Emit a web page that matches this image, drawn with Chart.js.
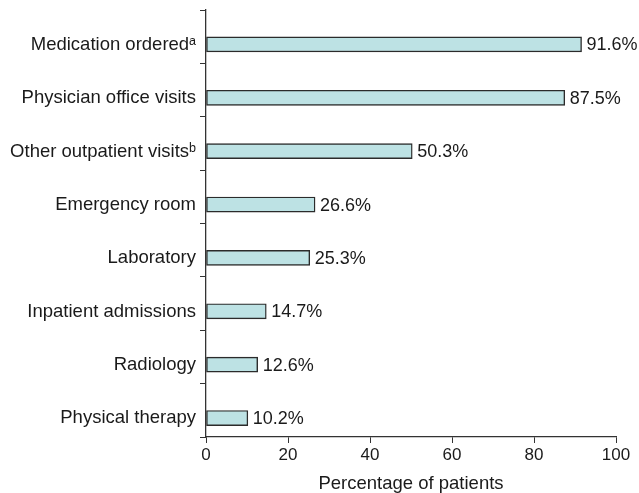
<!DOCTYPE html>
<html>
<head>
<meta charset="utf-8">
<script src="https://cdn.jsdelivr.net/npm/chart.js@4/dist/chart.umd.min.js"></script>
<style>
  html, body { margin: 0; padding: 0; background: #fff; }
  #wrap { width: 639px; height: 493px; }
</style>
</head>
<body>
<div id="wrap"><canvas id="chart" width="639" height="493"></canvas></div>
<script>
// Data
const categories = [
    'Medication ordered\u1D43',
    'Physician office visits',
    'Other outpatient visits\u1D47',
    'Emergency room',
    'Laboratory',
    'Inpatient admissions',
    'Radiology',
    'Physical therapy'
];
const percentages = [91.6, 87.5, 50.3, 26.6, 25.3, 14.7, 12.6, 10.2];
const xTicks = [0, 20, 40, 60, 80, 100];

const FONT = '"Liberation Sans", Arial, "DejaVu Sans", sans-serif';

// In the original the bars sit a little below the middle of each band
const BAND_POS = 0.645;

// Draw the percentage after each bar
const valueLabels = {
    id: 'valueLabels',
    afterDatasetsDraw(chart) {
        const ctx = chart.ctx;
        const meta = chart.getDatasetMeta(0);
        ctx.save();
        ctx.font = '18px ' + FONT;
        ctx.fillStyle = '#1a1a1a';
        ctx.textAlign = 'left';
        ctx.textBaseline = 'middle';
        meta.data.forEach(function(bar, i) {
            ctx.fillText(percentages[i].toFixed(1) + '%', bar.x + 5, bar.y + 1);
        });
        ctx.restore();
    }
};

new Chart(document.getElementById('chart').getContext('2d'), {
    type: 'bar',
    data: {
        labels: categories,
        datasets: [{
            data: percentages.map(function(v, i) { return { x: v, y: i }; }),
            yAxisID: 'yb',
            backgroundColor: '#bde2e4',
            borderColor: '#2b2b2b',
            borderWidth: 1.4,
            borderSkipped: false,
            barThickness: 15
        }]
    },
    options: {
        indexAxis: 'y',
        responsive: false,
        animation: false,
        layout: { padding: { top: 10, right: 23, left: 0, bottom: 0 } },
        plugins: {
            legend: { display: false },
            tooltip: { enabled: false }
        },
        scales: {
            x: {
                min: 0,
                max: 100,
                afterBuildTicks: function(scale) {
                    scale.ticks = xTicks.map(function(v) { return { value: v }; });
                },
                afterFit: function(scale) { scale.height = 56; },
                grid: {
                    drawOnChartArea: false,
                    drawTicks: true,
                    tickLength: 6,
                    color: '#333'
                },
                border: { display: true, color: '#333', width: 1.3 },
                ticks: {
                    color: '#1a1a1a',
                    font: { family: FONT, size: 17 },
                    padding: 2,
                    maxRotation: 0
                },
                title: {
                    display: true,
                    text: 'Percentage of patients',
                    color: '#1a1a1a',
                    font: { family: FONT, size: 18.5 },
                    padding: { top: 0, bottom: -2 }
                }
            },
            y: {
                type: 'category',
                afterFit: function(scale) {
                    scale.width = 206;
                    scale.paddingTop = 0;
                    scale.paddingBottom = 0;
                },
                grid: {
                    drawOnChartArea: false,
                    drawTicks: true,
                    tickLength: 6,
                    offset: true,
                    color: '#333'
                },
                border: { display: true, color: '#333', width: 1.3 },
                ticks: {
                    color: '#1a1a1a',
                    font: { family: FONT, size: 18.5 },
                    padding: 4,
                    labelOffset: 8
                }
            },
            yb: {
                type: 'linear',
                display: false,
                offset: false,
                reverse: true,
                min: -BAND_POS,
                max: categories.length - BAND_POS
            }
        }
    },
    plugins: [valueLabels]
});
</script>
</body>
</html>
